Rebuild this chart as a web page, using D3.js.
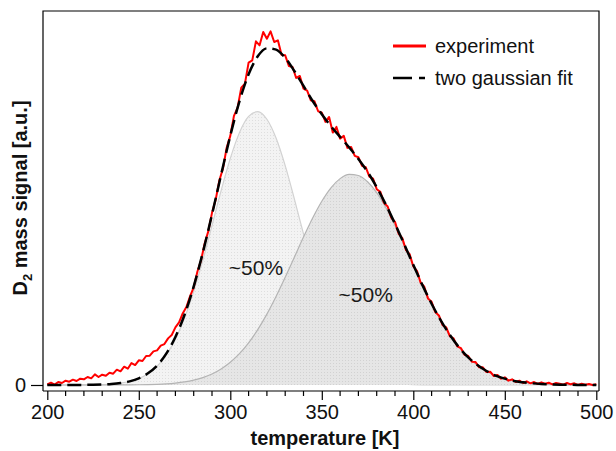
<!DOCTYPE html>
<html lang="en">
<head>
<meta charset="UTF-8">
<title>D2 TPD</title>
<script src="https://d3js.org/d3.v7.min.js"></script>
<style>
  body { margin: 0; background: #fff; }
  svg { display: block; font-family: "Liberation Sans", Arial, sans-serif; }
  .tick text { font-size: 20px; fill: #111; }
</style>
</head>
<body>
<div id="chart"></div>
<script>
// fit grid: 200..500 K, step 5
const fitStart = 200, fitStep = 5;
const gauss1 = [0, 0, 0, 0.0001, 0.0003, 0.0006, 0.0013, 0.0028, 0.0055, 0.0105,
  0.0192, 0.0337, 0.0563, 0.0901, 0.1378, 0.2014, 0.2813, 0.3754, 0.4789, 0.584,
  0.6806, 0.7579, 0.8067, 0.821, 0.798, 0.7416, 0.6587, 0.5591, 0.4536, 0.3517,
  0.2607, 0.1846, 0.125, 0.0809, 0.05, 0.0295, 0.0167, 0.009, 0.0046, 0.0023,
  0.0011, 0.0005, 0.0002, 0.0001, 0, 0, 0, 0, 0, 0,
  0, 0, 0, 0, 0, 0, 0, 0, 0, 0, 0];
const gauss2 = [0, 0, 0, 0, 0, 0, 0, 0.0001, 0.0002, 0.0004,
  0.0007, 0.0012, 0.0021, 0.0035, 0.0058, 0.0093, 0.0146, 0.0223, 0.0332, 0.0482,
  0.0682, 0.0941, 0.1267, 0.1664, 0.2129, 0.2658, 0.3235, 0.3839, 0.4443, 0.5015,
  0.5519, 0.5922, 0.6197, 0.6323, 0.6291, 0.6104, 0.5775, 0.5327, 0.4792, 0.4204,
  0.3596, 0.2999, 0.244, 0.1935, 0.1496, 0.1129, 0.083, 0.0595, 0.0416, 0.0284,
  0.0189, 0.0122, 0.0077, 0.0048, 0.0029, 0.0017, 0.001, 0.0006, 0.0003, 0.0002, 0.0001];
const fitSum = [0, 0, 0, 0.0002, 0.0003, 0.0006, 0.0013, 0.0028, 0.0057, 0.011,
  0.020, 0.035, 0.058, 0.094, 0.144, 0.211, 0.296, 0.398, 0.512, 0.632,
  0.749, 0.852, 0.933, 0.987, 1.011, 1.007, 0.982, 0.943, 0.898, 0.853,
  0.813, 0.777, 0.745, 0.713, 0.679, 0.640, 0.594, 0.542, 0.484, 0.423,
  0.361, 0.300, 0.244, 0.194, 0.150, 0.113, 0.083, 0.060, 0.042, 0.028,
  0.019, 0.012, 0.008, 0.005, 0.003, 0.002, 0.001, 0.0005, 0.0003, 0.0002, 0.0001];

// measured signal: 200..500 K, step 2
const expStart = 200, expStep = 2;
const experiment = [0.002, 0.007, 0.001, 0.009, 0.006, 0.013, 0.010, 0.016, 0.012, 0.019,
  0.017, 0.024, 0.020, 0.032, 0.024, 0.031, 0.028, 0.037, 0.034, 0.046,
  0.041, 0.055, 0.049, 0.066, 0.060, 0.074, 0.072, 0.087, 0.088, 0.101,
  0.104, 0.118, 0.123, 0.140, 0.150, 0.173, 0.188, 0.215, 0.234, 0.266,
  0.293, 0.340, 0.374, 0.425, 0.462, 0.517, 0.556, 0.614, 0.650, 0.712,
  0.748, 0.808, 0.833, 0.893, 0.905, 0.968, 0.975, 1.032, 1.020, 1.060,
  1.040, 1.062, 1.030, 1.035, 0.992, 0.990, 0.958, 0.955, 0.922, 0.928,
  0.890, 0.884, 0.855, 0.852, 0.822, 0.818, 0.790, 0.805, 0.758, 0.775,
  0.740, 0.748, 0.712, 0.715, 0.688, 0.684, 0.658, 0.654, 0.626, 0.620,
  0.588, 0.580, 0.547, 0.536, 0.502, 0.490, 0.454, 0.441, 0.405, 0.393,
  0.356, 0.343, 0.307, 0.295, 0.260, 0.250, 0.219, 0.209, 0.180, 0.173,
  0.146, 0.140, 0.116, 0.111, 0.091, 0.087, 0.070, 0.069, 0.053, 0.053,
  0.039, 0.040, 0.027, 0.030, 0.019, 0.023, 0.013, 0.017, 0.009, 0.013,
  0.006, 0.011, 0.005, 0.009, 0.003, 0.008, 0.004, 0.007, 0.002, 0.006,
  0.004, 0.001, 0.006, 0.002, 0.005, 0.000, 0.004, 0.001, 0.003, 0.000, 0.002];

const xTicks = [200, 250, 300, 350, 400, 450, 500];
const xMinor = [210, 220, 230, 240, 260, 270, 280, 290, 310, 320, 330, 340,
  360, 370, 380, 390, 410, 420, 430, 440, 460, 470, 480, 490];
const yTicks = [0];
const shareLabels = [{ t: 314, v: 0.33, text: "~50%" }, { t: 374, v: 0.25, text: "~50%" }];

const W = 616, H = 451;
const frame = { left: 43, right: 599, top: 11, bottom: 391 };

const x = d3.scaleLinear().domain([200, 500]).range([47.3, 596.3]);
const y = d3.scaleLinear().domain([0, 1]).range([385, 52]);

const fitPts = arr => arr.map((v, i) => ({ t: fitStart + i * fitStep, v }));
const expPts = experiment.map((v, i) => ({ t: expStart + i * expStep, v }));

const svg = d3.select("#chart").append("svg")
  .attr("width", W).attr("height", H);

const defs = svg.append("defs");
function dotPattern(id, bg, dot) {
  const p = defs.append("pattern").attr("id", id)
    .attr("width", 3).attr("height", 3).attr("patternUnits", "userSpaceOnUse");
  p.append("rect").attr("width", 3).attr("height", 3).attr("fill", bg);
  p.append("rect").attr("width", 1).attr("height", 1).attr("fill", dot);
}
dotPattern("pat1", "#f3f3f3", "#dedede");
dotPattern("pat2", "#e6e6e6", "#d2d2d2");

const area = d3.area().curve(d3.curveMonotoneX)
  .x(d => x(d.t)).y0(y(0)).y1(d => y(d.v));
const line = d3.line().curve(d3.curveMonotoneX)
  .x(d => x(d.t)).y(d => y(d.v));
const rawLine = d3.line().x(d => x(d.t)).y(d => y(d.v));

svg.append("path").datum(fitPts(gauss1)).attr("d", area).attr("fill", "url(#pat1)");
svg.append("path").datum(fitPts(gauss1)).attr("d", line)
  .attr("fill", "none").attr("stroke", "#d2d2d2").attr("stroke-width", 1.2);
svg.append("path").datum(fitPts(gauss2)).attr("d", area).attr("fill", "url(#pat2)");
svg.append("path").datum(fitPts(gauss2)).attr("d", line)
  .attr("fill", "none").attr("stroke", "#b4b4b4").attr("stroke-width", 1.2);

svg.append("path").datum(expPts).attr("d", rawLine)
  .attr("fill", "none").attr("stroke", "#ff0000").attr("stroke-width", 2)
  .attr("stroke-linejoin", "round");
svg.append("path").datum(fitPts(fitSum)).attr("d", line)
  .attr("fill", "none").attr("stroke", "#000").attr("stroke-width", 2.5)
  .attr("stroke-dasharray", "14,6");

svg.selectAll(".share").data(shareLabels).enter().append("text")
  .attr("class", "share")
  .attr("x", d => x(d.t)).attr("y", d => y(d.v))
  .attr("text-anchor", "middle")
  .attr("font-size", 21).attr("fill", "#1a1a1a")
  .text(d => d.text);

// frame
svg.append("path")
  .attr("d", `M${frame.left},${frame.bottom}V${frame.top}H${frame.right}V${frame.bottom}`)
  .attr("fill", "none").attr("stroke", "#000").attr("stroke-width", 1.2);

// x axis
const xAxis = svg.append("g").attr("transform", `translate(0,${frame.bottom})`)
  .call(d3.axisBottom(x).tickValues(xTicks).tickSize(9).tickPadding(5).tickFormat(d3.format("d")));
xAxis.select(".domain").attr("d", `M${frame.left},0H${frame.right}`).attr("stroke-width", 1.2);
xAxis.selectAll(".tick line").attr("stroke-width", 1.2);
svg.append("g").selectAll("line").data(xMinor).enter().append("line")
  .attr("x1", d => x(d)).attr("x2", d => x(d))
  .attr("y1", frame.bottom).attr("y2", frame.bottom + 5)
  .attr("stroke", "#000").attr("stroke-width", 1.2);

// y axis (only zero)
const yAxis = svg.append("g").attr("transform", `translate(${frame.left},0)`)
  .call(d3.axisLeft(y).tickValues(yTicks).tickSize(12).tickPadding(5).tickFormat(d3.format("d")));
yAxis.select(".domain").remove();
yAxis.selectAll(".tick line").attr("stroke-width", 1.2);

svg.append("text")
  .attr("x", 325).attr("y", 445)
  .attr("text-anchor", "middle")
  .attr("font-size", 20).attr("font-weight", "bold").attr("fill", "#111")
  .text("temperature [K]");

const yl = svg.append("text")
  .attr("transform", "translate(27,198) rotate(-90)")
  .attr("text-anchor", "middle")
  .attr("font-size", 20).attr("font-weight", "bold").attr("fill", "#111");
yl.append("tspan").text("D");
yl.append("tspan").attr("font-size", 13).attr("dy", 5).text("2");
yl.append("tspan").attr("dy", -5).text(" mass signal [a.u.]");

// legend
const legend = [
  { label: "experiment", color: "#ff0000", dash: null, w: 3 },
  { label: "two gaussian fit", color: "#000", dash: "19,7,6", w: 2.5 }
];
const lg = svg.selectAll(".lg").data(legend).enter().append("g")
  .attr("transform", (d, i) => `translate(393,${46 + i * 32})`);
lg.append("line").attr("x1", 0).attr("x2", 33)
  .attr("stroke", d => d.color).attr("stroke-width", d => d.w)
  .attr("stroke-dasharray", d => d.dash);
lg.append("text").attr("x", 42).attr("dy", "0.35em")
  .attr("font-size", 20).attr("fill", "#111")
  .text(d => d.label);
</script>
</body>
</html>
